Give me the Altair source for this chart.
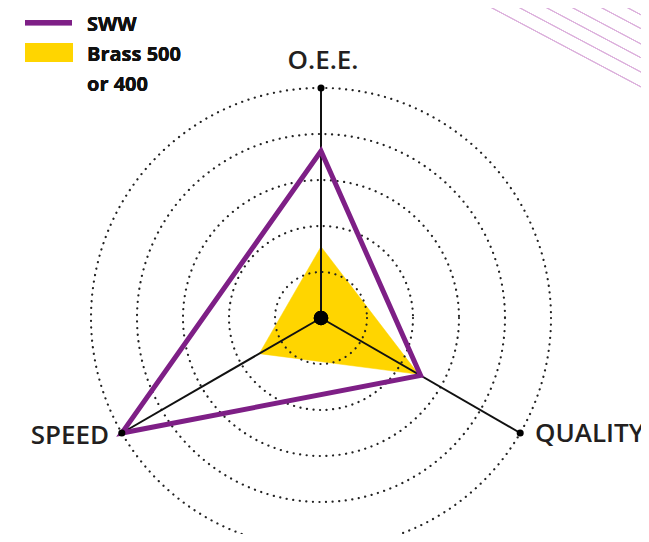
import math
import altair as alt
import pandas as pd

# ---- data ----
categories = ["O.E.E.", "QUALITY", "SPEED"]
axis_angles = [90, -30, 210]          # degrees, direction of each spoke
sww_values = [3.63, 2.5, 5.0]
brass_values = [1.55, 2.45, 1.55]
grid_levels = [1, 2, 3, 4, 5]
axis_max = 5
legend_sww = "SWW"
legend_brass = ["Brass 500", "or 400"]

# ---- styling / layout ----
PURPLE = "#7e1f86"
YELLOW = "#FFD500"
INK = "#231f20"
W, H = 633, 526
CX, CY = 313, 310      # centre of the radar in plot pixels
PX = 46                # pixels per unit
xscale = alt.Scale(domain=[-CX / PX, (W - CX) / PX], nice=False, zero=False)
yscale = alt.Scale(domain=[-(H - CY) / PX, CY / PX], nice=False, zero=False)
sscale = alt.Scale(type="pow", exponent=2, domain=[0, axis_max],
                   range=[0, (2 * axis_max * PX) ** 2])
deco_starts = [469, 497, 524, 550, 579, 605, 632]   # plot px along the top edge

rows = []
for name, vals in (("SWW", sww_values), ("Brass", brass_values)):
    for i, (c, a, v) in enumerate(zip(categories, axis_angles, vals)):
        rows.append({"series": name, "category": c, "angle": a, "value": v, "order": i})
poly_df = pd.DataFrame(rows)
axes_df = pd.DataFrame({"category": categories, "angle": axis_angles})
grid_df = pd.DataFrame({"level": grid_levels, "cx": 0, "cy": 0})

X = lambda f: alt.X(f, type="quantitative", scale=xscale, axis=None)
Y = lambda f: alt.Y(f, type="quantitative", scale=yscale, axis=None)

poly = alt.Chart(poly_df).transform_calculate(
    px="datum.value*cos(datum.angle*PI/180)",
    py="datum.value*sin(datum.angle*PI/180)",
)

yellow = poly.transform_filter("datum.series == 'Brass'").mark_line(
    interpolate="linear-closed", fill=YELLOW, stroke=YELLOW, strokeWidth=0.5
).encode(x=X("px"), y=Y("py"), order="order:O")

purple = poly.transform_filter("datum.series == 'SWW'").mark_line(
    interpolate="linear-closed", stroke=PURPLE, strokeWidth=5,
    strokeJoin="miter", strokeMiterLimit=20
).encode(x=X("px"), y=Y("py"), order="order:O")

grid = alt.Chart(grid_df).mark_point(
    shape="circle", filled=False, stroke="#222222", opacity=1,
    strokeWidth=2.2, strokeDash=[0.1, 6.5], strokeCap="round"
).encode(
    x=X("cx"), y=Y("cy"),
    size=alt.Size("level:Q", scale=sscale, legend=None),
)

spokes_base = alt.Chart(axes_df).transform_calculate(
    ox="0", oy="0",
    ex=f"{axis_max}*cos(datum.angle*PI/180)",
    ey=f"{axis_max}*sin(datum.angle*PI/180)",
    lx=f"5.32*cos(datum.angle*PI/180)",
    ly=f"5.32*sin(datum.angle*PI/180)",
)
spokes = spokes_base.mark_rule(color="#111111", strokeWidth=2).encode(
    x=X("ox"), y=Y("oy"), x2="ex:Q", y2="ey:Q"
)
ends = spokes_base.mark_circle(color="#000000", size=50, opacity=1).encode(
    x=X("ex"), y=Y("ey")
)
centre = spokes_base.mark_circle(color="#000000", size=210, opacity=1).encode(
    x=X("ox"), y=Y("oy")
)

label_style = {
    "O.E.E.": dict(align="center", dx=2, dy=-4),
    "QUALITY": dict(align="left", dx=2, dy=2),
    "SPEED": dict(align="right", dx=0, dy=4),
}
labels = []
for cat, st in label_style.items():
    labels.append(
        spokes_base.transform_filter(alt.datum.category == cat).mark_text(
            font="Open Sans", fontSize=26, fontWeight=600,
            color=INK, baseline="alphabetic", **st
        ).encode(x=X("lx"), y=Y("ly"), text="category:N")
    )

# ---- legend (drawn) ----
leg_line = alt.Chart(axes_df).mark_rule(color=PURPLE, strokeWidth=5).encode(
    x=alt.value(17), x2=alt.value(64), y=alt.value(14.7)
)
leg_rect = alt.Chart(axes_df).mark_rect(color=YELLOW).encode(
    x=alt.value(17), x2=alt.value(65), y=alt.value(35), y2=alt.value(54)
)
leg_t1 = alt.Chart(axes_df).mark_text(
    text=legend_sww, font="Open Sans", fontSize=20, fontWeight="bold",
    color="#111111", align="left", baseline="alphabetic"
).encode(x=alt.value(79), y=alt.value(22.8))
leg_t2 = alt.Chart(axes_df).mark_text(
    text=legend_brass, font="Open Sans", fontSize=20, fontWeight="bold",
    color="#111111", align="left", baseline="alphabetic", lineHeight=30
).encode(x=alt.value(79), y=alt.value(52.8))

# ---- decorative diagonal lines (top right) ----
deco = [
    alt.Chart(axes_df).mark_rule(color="#dcb0dc", strokeWidth=1).encode(
        x=alt.value(s), y=alt.value(-8), x2=alt.value(s + 240), y2=alt.value(-8 + 240 * 0.53)
    )
    for s in deco_starts
]

chart = alt.layer(
    *deco, yellow, grid, spokes, purple, ends, centre, *labels,
    leg_line, leg_rect, leg_t1, leg_t2
).properties(
    width=W, height=H, padding=0, autosize=alt.AutoSizeParams(type="none")
).configure_view(strokeWidth=0)

chart.save("out.html", embed_options={"renderer": "svg", "actions": False})
